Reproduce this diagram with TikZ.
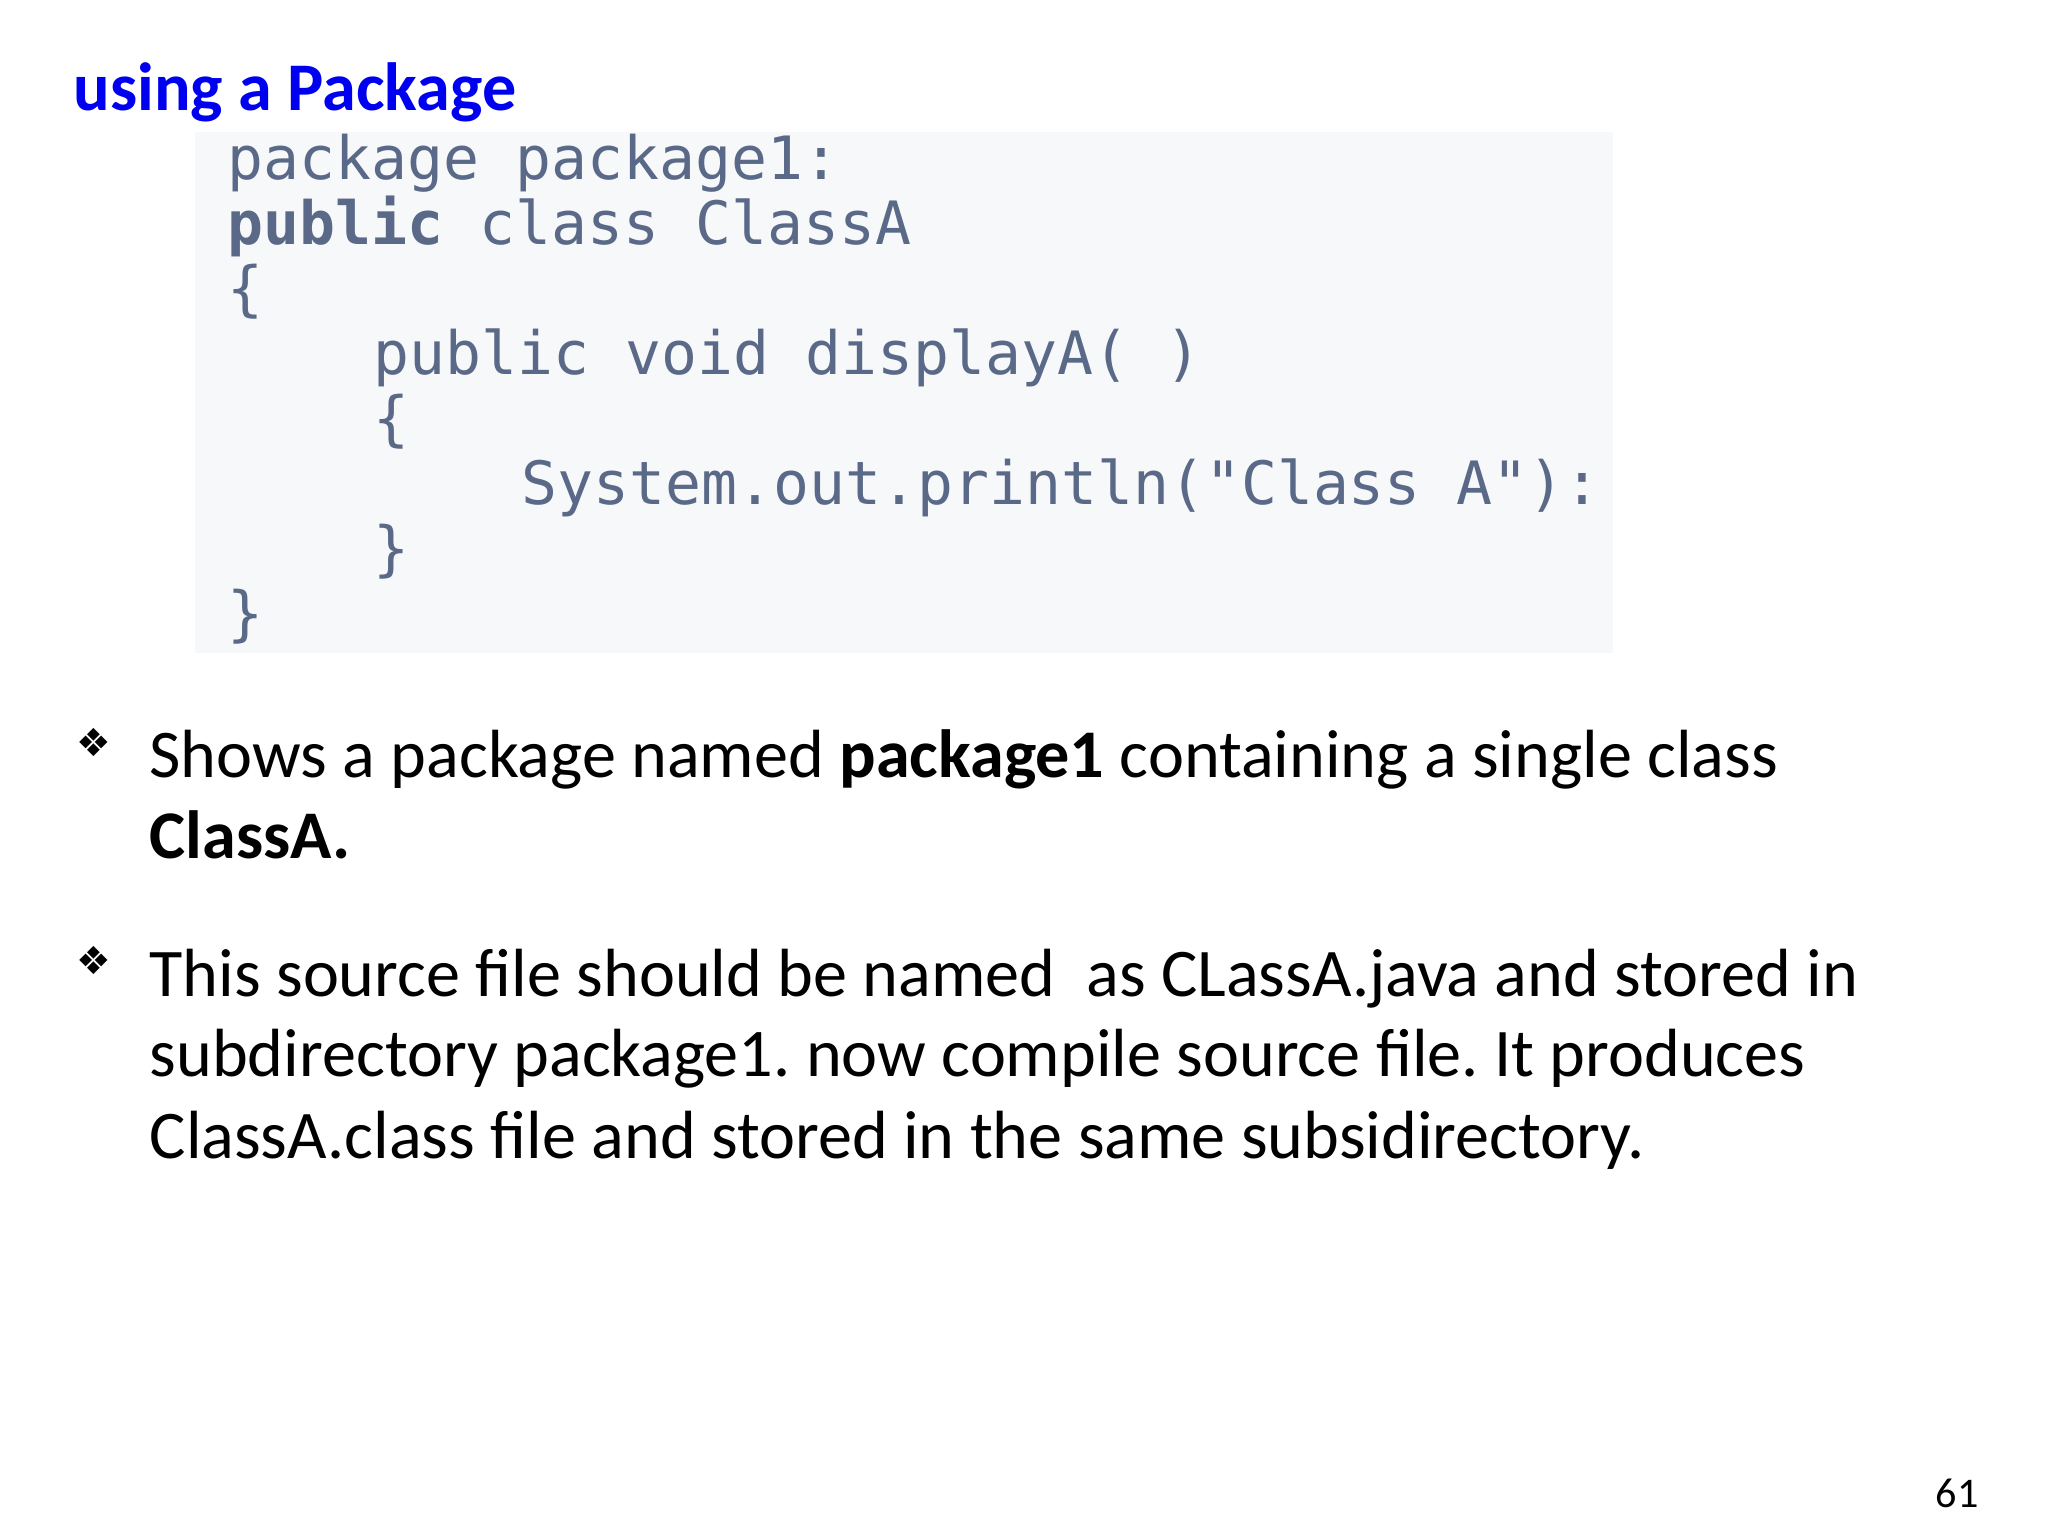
\documentclass[tikz,border=0pt]{standalone}
\usepackage{fontspec}
\setmainfont{Carlito}
\newfontfamily\dejavu{DejaVu Sans}
\newfontfamily\codefont{DejaVu Sans Mono}
\definecolor{titleblue}{RGB}{0,0,240}
\definecolor{codegray}{RGB}{90,105,135}
\definecolor{codebg}{RGB}{246,248,250}
\frenchspacing
\begin{document}
\begin{tikzpicture}[
  txt/.style={anchor=base west, inner sep=0pt, font=\fontsize{19.4}{23}\selectfont},
  code/.style={anchor=base west, inner sep=0pt, text=codegray, font=\codefont\fontsize{17}{20}\selectfont},
  bul/.style={anchor=base west, inner sep=0pt, font=\dejavu\fontsize{11}{12}\selectfont}]
\useasboundingbox[fill=white] (0,0) rectangle (20.48,-15.36);
\node[txt, text=titleblue, font=\bfseries\fontsize{19.4}{23}\selectfont] (title) at (0.73,-1.11) {using a Package};
\fill[codebg] (1.95,-1.32) rectangle (16.13,-6.53);
\node[code] (c1) at (2.27,-1.80) {package package1:};
\node[code] (c2) at (2.27,-2.45) {\textbf{public} class ClassA};
\node[code] (c3) at (2.27,-3.10) {\{};
\node[code] (c4) at (3.73,-3.75) {public void displayA( )};
\node[code] (c5) at (3.73,-4.40) {\{};
\node[code] (c6) at (5.21,-5.05) {System.out.println("Class A"):};
\node[code] (c7) at (3.73,-5.70) {\}};
\node[code] (c8) at (2.27,-6.35) {\}};
\node[bul] (b1) at (0.76,-7.56) {❖};
\node[txt] (t1) at (1.49,-7.78) {Shows a package named \textbf{package1} containing a single class};
\node[txt] (t2) at (1.49,-8.58) {\textbf{ClassA.}};
\node[bul] (b2) at (0.76,-9.74) {❖};
\node[txt] (t3) at (1.49,-9.96) {This source file should be named\ \ as CLassA.java and stored in};
\node[txt] (t4) at (1.49,-10.76) {subdirectory package1. now compile source file. It produces};
\node[txt] (t5) at (1.49,-11.58) {ClassA.class file and stored in the same subsidirectory.};
\node[anchor=base west, inner sep=0pt, font=\fontsize{12}{14}\selectfont] (pg) at (19.35,-15.07) {61};
\end{tikzpicture}
\end{document}
